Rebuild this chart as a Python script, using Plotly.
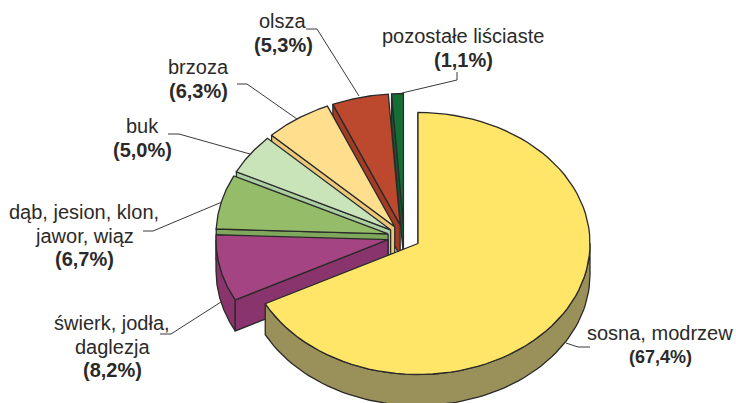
import math
import numpy as np
import plotly.graph_objects as go

names = [["sosna, modrzew"], ["świerk, jodła,", "daglezja"], ["dąb, jesion, klon,", "jawor, wiąz"], ["buk"],
         ["brzoza"], ["olsza"], ["pozostałe liściaste"]]
values = [67.4, 8.2, 6.7, 5.0, 6.3, 5.3, 1.1]
top_colors = ["#FFE669", "#A54482", "#94BC69", "#C9E4B9", "#FFDE8E", "#BC482E", "#166E37"]
side_colors = ["#99905A", "#8A346E", "#80A85C", "#ACCFA2", "#EBC87A", "#A33C24", "#125A2D"]
label_x = [660, 112, 84, 142, 198, 283, 463]
first_line_y = [333, 323, 212, 126, 67, 21, 36]
bold_sizes = [18, 20, 20, 20, 20, 20, 20]
leaders = [
    [(590, 347), (578, 347), (566, 343)],
    [(160, 334), (171, 334), (221, 302)],
    [(143, 231), (153, 231), (222, 202)],
    [(168, 134), (179, 134), (250, 154)],
    [(237, 84), (247, 84), (297, 119)],
    [(306, 29), (317, 29), (359, 96)],
    [(457, 72), (457, 80), (402, 93)],
]

CX, CY, RX, RY, DEPTH, EXPLODE = 404, 237, 172, 131, 31, 0.0953
EDGE = "#2A2A2A"
TEXT = "#2B2A29"
LINE_STEP = 23.7


def pt(ax, ay, deg):
    r = math.radians(deg)
    return ax + RX * math.sin(r), ay - RY * math.cos(r)


fig = go.Figure()


def poly(pts, fill, width=1.3):
    fig.add_trace(go.Scatter(
        x=[p[0] for p in pts] + [pts[0][0]], y=[p[1] for p in pts] + [pts[0][1]],
        mode="lines", fill="toself", fillcolor=fill,
        line=dict(color=EDGE, width=width), hoverinfo="skip", showlegend=False))


def down(p):
    return (p[0], p[1] + DEPTH)


bounds = np.concatenate([[0], np.cumsum(values)]) * 3.6
for i in range(len(values) - 1, -1, -1):
    a0, a1 = bounds[i], bounds[i + 1]
    mid = math.radians((a0 + a1) / 2)
    ax = CX + EXPLODE * RX * math.sin(mid)
    ay = CY - EXPLODE * RY * math.cos(mid)
    arc = [pt(ax, ay, d) for d in np.linspace(a0, a1, 80)]
    lo, hi = max(a0, 90), min(a1, 270)
    if hi > lo:  # only the front-facing part of the outer wall is visible
        wall = [pt(ax, ay, d) for d in np.linspace(lo, hi, 80)]
        poly(wall + [down(p) for p in reversed(wall)], side_colors[i])
    poly([(ax, ay), arc[0], down(arc[0]), (ax, ay + DEPTH)], side_colors[i])
    poly([(ax, ay)] + arc, top_colors[i])

for seg in leaders:
    fig.add_trace(go.Scatter(x=[p[0] for p in seg], y=[p[1] for p in seg], mode="lines",
                             line=dict(color="#3A3A3A", width=1), hoverinfo="skip", showlegend=False))

for lines, v, x, y, bs in zip(names, values, label_x, first_line_y, bold_sizes):
    pct = f"{v:.1f}".replace(".", ",")
    for k, line in enumerate(lines):
        fig.add_annotation(x=x, y=y + k * LINE_STEP, xref="x", yref="y", text=line,
                           showarrow=False, xanchor="center", yanchor="middle",
                           font=dict(family="Liberation Sans", size=20, color=TEXT))
    fig.add_annotation(x=x, y=y + len(lines) * LINE_STEP, xref="x", yref="y", text=f"<b>({pct}%)</b>",
                       showarrow=False, xanchor="center", yanchor="middle",
                       font=dict(family="Liberation Sans", size=bs, color=TEXT))

fig.update_layout(
    width=736, height=403, margin=dict(l=0, r=0, t=0, b=0),
    paper_bgcolor="white", plot_bgcolor="white",
    xaxis=dict(range=[0, 736], visible=False, fixedrange=True),
    yaxis=dict(range=[403, 0], visible=False, fixedrange=True),
)
fig.write_html("out.html", config={"displayModeBar": False},
               post_script="document.body.style.margin='0';document.documentElement.style.overflow='hidden';")
